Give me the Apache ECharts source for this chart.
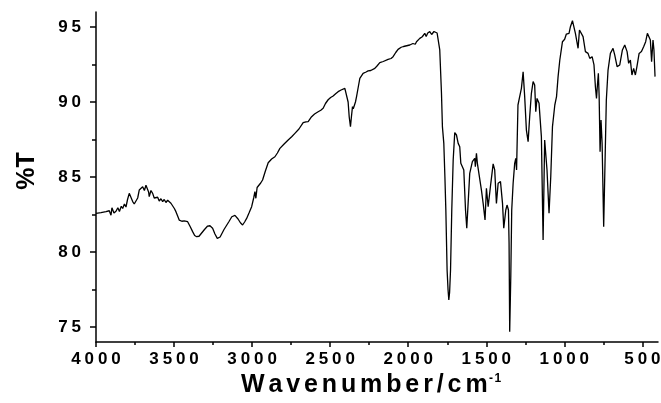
<!DOCTYPE html>
<html>
<head>
<meta charset="utf-8">
<script src="https://cdn.jsdelivr.net/npm/echarts@6/dist/echarts.min.js"></script>
<style>html,body{margin:0;padding:0;background:#fff;}#c{width:661px;height:403px;}</style>
</head>
<body>
<div id="c"></div>
<script>
// Wavenumber (cm-1), descending
const wavenumber = [4000,3968,3936,3915,3904,3898,3885,3872,3860,3850,3838,3829,3818,3808,3798,3787,3778,3765,3755,3744,3733,3723,3712,3701,3690,3680,3669,3663,3659,3648,3637,3627,3616,3605,3595,3584,3573,3563,3552,3541,3531,3520,3509,3498,3488,3477,3467,3450,3435,3413,3397,3381,3368,3355,3340,3328,3305,3285,3270,3253,3238,3223,3205,3180,3150,3130,3110,3090,3075,3061,3048,3035,3020,3003,2990,2982,2976,2968,2961,2945,2933,2915,2897,2875,2854,2838,2822,2795,2769,2745,2726,2700,2673,2655,2641,2619,2600,2577,2560,2545,2530,2513,2497,2481,2465,2449,2430,2406,2395,2385,2378,2370,2364,2357,2352,2346,2338,2331,2320,2310,2289,2270,2257,2240,2214,2200,2182,2160,2129,2110,2097,2080,2065,2045,2030,2022,2010,1990,1970,1955,1947,1926,1910,1900,1894,1885,1875,1862,1850,1841,1835,1823,1815,1809,1798,1787,1781,1772,1765,1759,1751,1745,1740,1735,1729,1721,1712,1702,1696,1691,1680,1670,1663,1652,1644,1633,1625,1614,1606,1589,1574,1570,1563,1557,1546,1531,1520,1508,1499,1488,1471,1456,1446,1435,1424,1409,1396,1388,1375,1367,1358,1354,1350,1343,1337,1328,1318,1311,1306,1297,1286,1275,1264,1254,1243,1232,1222,1211,1200,1190,1183,1175,1162,1147,1136,1126,1119,1111,1098,1087,1076,1061,1050,1040,1029,1021,1012,998,987,970,961,948,938,929,919,912,903,891,880,865,848,837,822,810,801,794,788,782,777,771,765,758,748,739,731,720,705,688,677,662,645,628,613,598,588,577,567,556,545,535,521,506,492,479,468,460,449,441,432,426,419];
// Transmittance (%T)
const transmittance = [82.58,82.62,82.69,82.75,82.45,82.95,82.6,82.72,82.95,82.7,83.05,82.9,83.2,83.0,83.5,83.91,83.8,83.36,83.2,83.13,83.6,84.13,84.0,84.35,84.1,84.45,84.47,84.0,83.69,84.1,83.91,83.6,83.47,83.65,83.4,83.55,83.36,83.5,83.3,83.45,83.36,83.25,83.13,82.9,82.69,82.4,82.13,82.05,82.07,82.02,81.7,81.36,81.1,81.02,81.05,81.13,81.5,81.73,81.75,81.58,81.2,80.91,81.0,81.5,82.0,82.35,82.44,82.2,81.95,81.8,82.0,82.24,82.6,83.02,83.6,84.02,83.58,84.3,84.35,84.6,84.8,85.4,85.95,86.2,86.35,86.6,86.91,87.2,87.47,87.7,87.91,88.2,88.62,88.68,88.69,89.02,89.2,89.35,89.45,89.58,89.9,90.15,90.3,90.4,90.55,90.69,90.8,90.91,90.8,90.0,89.0,88.36,89.0,89.69,89.55,89.58,90.0,90.36,91.0,91.58,91.91,92.0,92.07,92.1,92.24,92.4,92.62,92.7,92.84,92.9,93.02,93.3,93.51,93.65,93.7,93.8,93.75,93.8,93.9,93.85,94.02,94.24,94.35,94.3,94.58,94.36,94.6,94.69,94.5,94.47,94.7,94.76,94.6,94.47,93.47,90.58,88.36,87.24,85.0,82.8,78.8,77.5,76.8,77.3,78.8,82.8,86.13,87.96,88.0,87.8,87.24,87.02,85.91,85.91,85.47,82.8,81.58,83.69,85.24,86.02,86.24,85.69,86.58,85.91,85.91,84.13,83.24,82.13,84.24,83.02,84.58,85.87,85.47,83.24,84.58,84.69,83.24,81.58,82.8,83.13,82.8,80.58,74.69,78.36,82.8,84.58,85.91,86.24,85.47,89.8,90.36,90.91,92.02,90.36,88.13,87.36,89.02,90.58,91.36,91.13,89.35,90.24,89.91,87.69,80.8,87.47,87.5,85.47,82.58,85.02,88.36,89.8,90.36,91.69,92.8,92.84,94.02,94.18,94.53,94.58,95.02,95.42,95.36,94.58,94.47,93.58,94.8,94.69,94.36,93.36,93.24,92.91,93.02,92.47,91.02,90.24,91.13,91.91,90.36,86.69,88.8,87.24,81.69,86.13,90.13,92.13,93.24,93.58,93.13,92.36,92.47,93.47,93.8,93.36,92.58,92.8,91.8,92.24,91.8,92.36,93.24,93.36,93.69,94.02,94.58,94.69,94.13,92.69,94.13,93.47,91.69];

const xMajorTicks = [500,1000,1500,2000,2500,3000,3500,4000];
const xMinorTicks = [750,1250,1750,2250,2750,3250,3750];
const yMajorTicks = [75,80,85,90,95];
const yMinorTicks = [77.5,82.5,87.5,92.5];
const xTitle = 'Wavenumber/cm';
const xTitleSup = '-1';
const yTitle = '%T';

const FONT = '"Liberation Sans", Arial, Helvetica, sans-serif';
const spaced = s => String(s).split('').join('{s| }');

const data = wavenumber.map((w, i) => [w, transmittance[i]]);
const chart = echarts.init(document.getElementById('c'), null, {renderer: 'canvas'});

const axisLineStyle = {color: '#000', width: 1.5};
const baseLabel = {color: '#000', fontFamily: FONT, fontWeight: 'bold', fontSize: 17,
  rich: {s: {fontSize: 14, fontFamily: FONT}}};

const xName = xTitle.split('').join('{s| }') + '{t| }' +
  xTitleSup.split('').map(c => '{sup|' + c + '}').join('{t| }');

chart.setOption({
  animation: false,
  backgroundColor: '#fff',
  grid: {left: 96, right: 3, top: 12, bottom: 61, containLabel: false, outerBoundsMode: 'none'},
  xAxis: [{
    type: 'value', min: 400, max: 4000, inverse: true, position: 'bottom',
    axisLine: {show: true, lineStyle: axisLineStyle, onZero: false},
    axisTick: {show: true, customValues: xMajorTicks, length: 5, lineStyle: {color: '#000', width: 1.5}},
    axisLabel: Object.assign({customValues: xMajorTicks, margin: 9, formatter: v => spaced(v)}, baseLabel),
    splitLine: {show: false},
    name: xName,
    nameLocation: 'middle', nameGap: 27,
    nameTextStyle: {color: '#000', fontFamily: FONT, fontWeight: 'bold', fontSize: 25, padding: [0, 12, 0, 0],
      rich: {s: {fontSize: 14, fontFamily: FONT}, t: {fontSize: 5, fontFamily: FONT},
             sup: {fontSize: 12, fontWeight: 'bold', fontFamily: FONT, verticalAlign: 'top', color: '#000'}}}
  }, {
    type: 'value', min: 400, max: 4000, inverse: true, position: 'bottom',
    axisLine: {show: false},
    axisTick: {show: true, customValues: xMinorTicks, length: 3, lineStyle: {color: '#000', width: 1.5}},
    axisLabel: {show: false}, splitLine: {show: false}
  }],
  yAxis: [{
    type: 'value', min: 74, max: 96, position: 'left',
    axisLine: {show: true, lineStyle: axisLineStyle, onZero: false},
    axisTick: {show: true, customValues: yMajorTicks, length: 6, lineStyle: {color: '#000', width: 1.5}},
    axisLabel: Object.assign({customValues: yMajorTicks, margin: 15, formatter: v => spaced(v)}, baseLabel),
    splitLine: {show: false},
    name: yTitle, nameLocation: 'middle', nameGap: 56,
    nameTextStyle: {color: '#000', fontFamily: FONT, fontWeight: 'bold', fontSize: 25, padding: [0, 0, 0, 12]}
  }, {
    type: 'value', min: 74, max: 96, position: 'left',
    axisLine: {show: false},
    axisTick: {show: true, customValues: yMinorTicks, length: 4, lineStyle: {color: '#000', width: 1.5}},
    axisLabel: {show: false}, splitLine: {show: false}
  }],
  series: [{
    type: 'line', data: data, xAxisIndex: 0, yAxisIndex: 0,
    showSymbol: false, symbol: 'none', smooth: false,
    lineStyle: {color: '#000', width: 1.3}
  }]
});
</script>
</body>
</html>
